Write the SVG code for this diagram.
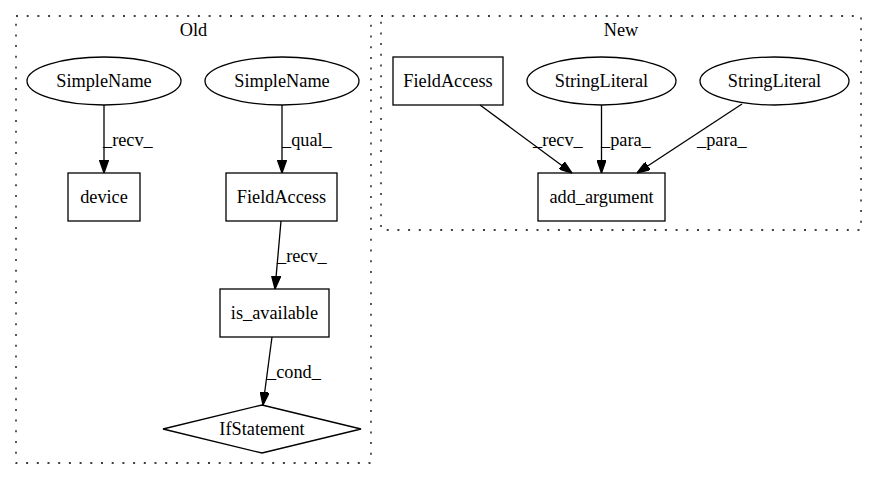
<svg xmlns="http://www.w3.org/2000/svg" width="876" height="480" viewBox="0 0 876 480">
<style>
text{font-family:"Liberation Serif","Times New Roman",serif;font-size:18.3px;fill:#000}
.c{text-anchor:middle}
.shape{fill:none;stroke:#000;stroke-width:1.3}
.cluster{fill:none;stroke:#000;stroke-width:1.3;stroke-dasharray:2,8.7}
.edge{fill:none;stroke:#000;stroke-width:1.3;marker-end:url(#arrow)}
</style>
<defs>
<marker id="arrow" viewBox="0 0 10 7" markerWidth="13" markerHeight="9.2" refX="10" refY="3.5" markerUnits="userSpaceOnUse" orient="auto">
<path d="M0,0 L10,3.5 L0,7 z" fill="#000" stroke="#000" stroke-width="1"/>
</marker>
</defs>
<rect width="876" height="480" fill="#fff"/>
<g id="cluster_old">
<rect class="cluster" x="16" y="16" width="355" height="447"/>
<text class="c" x="193.5" y="36">Old</text>
</g>
<g id="cluster_new">
<rect class="cluster" x="381" y="16" width="480" height="214"/>
<text class="c" x="621" y="36">New</text>
</g>
<g id="old_simplename1">
<ellipse class="shape" cx="104" cy="81" rx="77" ry="24"/>
<text class="c" x="104" y="87">SimpleName</text>
</g>
<g id="old_simplename2">
<ellipse class="shape" cx="282" cy="81" rx="77" ry="24"/>
<text class="c" x="282" y="87">SimpleName</text>
</g>
<g id="old_device">
<rect class="shape" x="68" y="173" width="72" height="48"/>
<text class="c" x="104" y="203">device</text>
</g>
<g id="old_fieldaccess">
<rect class="shape" x="226" y="173" width="111" height="48"/>
<text class="c" x="281.5" y="203">FieldAccess</text>
</g>
<g id="old_is_available">
<rect class="shape" x="220" y="289" width="109" height="48"/>
<text class="c" x="274.5" y="319">is_available</text>
</g>
<g id="old_ifstatement">
<polygon class="shape" points="262,405 361,429 262,453 163,429"/>
<text class="c" x="262" y="435">IfStatement</text>
</g>
<g id="new_fieldaccess">
<rect class="shape" x="393" y="57" width="110" height="48"/>
<text class="c" x="448" y="87">FieldAccess</text>
</g>
<g id="new_stringliteral1">
<ellipse class="shape" cx="601.5" cy="81" rx="74.5" ry="24"/>
<text class="c" x="601.5" y="87">StringLiteral</text>
</g>
<g id="new_stringliteral2">
<ellipse class="shape" cx="774.5" cy="81" rx="74.5" ry="24"/>
<text class="c" x="774.5" y="87">StringLiteral</text>
</g>
<g id="new_add_argument">
<rect class="shape" x="538" y="173" width="127" height="48"/>
<text class="c" x="601.5" y="203">add_argument</text>
</g>
<g id="connectors">
<path class="edge" d="M104,105 L104,173"/>
<text x="103" y="146">_recv_</text>
<path class="edge" d="M282,105 L282,173"/>
<text x="282" y="146">_qual_</text>
<path class="edge" d="M281,221 L275,289"/>
<text x="277" y="262">_recv_</text>
<path class="edge" d="M272,337 L263,405"/>
<text x="267" y="378">_cond_</text>
<path class="edge" d="M480,105 L572,173"/>
<text x="533" y="146">_recv_</text>
<path class="edge" d="M601.5,105 L601.5,173"/>
<text x="601" y="146">_para_</text>
<path class="edge" d="M742,104 L637,173"/>
<text x="697" y="146">_para_</text>
</g>
</svg>
